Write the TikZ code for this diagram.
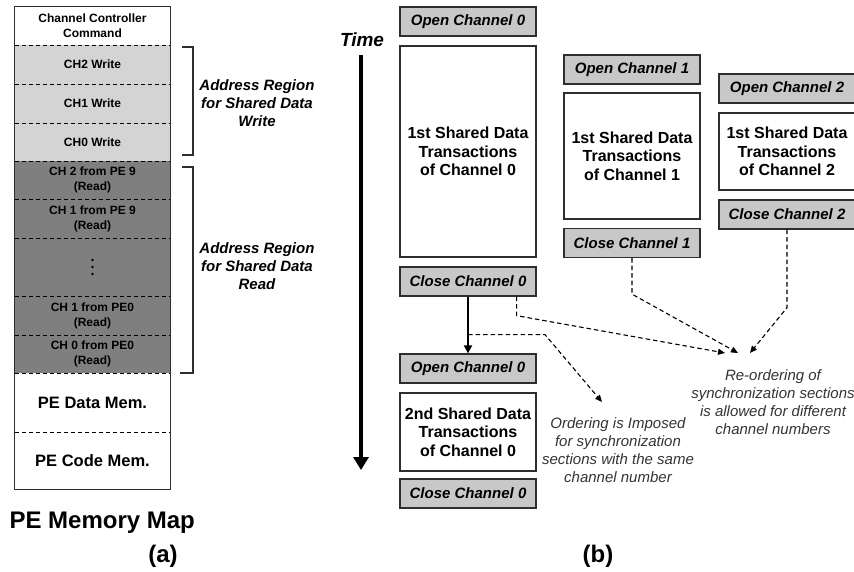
\documentclass[tikz,border=0pt]{standalone}
\usepackage{fontspec}
\setmainfont{Liberation Sans}
\usetikzlibrary{arrows.meta,calc}
\definecolor{boxline}{HTML}{2E2E2E}
\definecolor{ctrlfill}{HTML}{C8C8C8}
\definecolor{wrfill}{HTML}{D4D4D4}
\definecolor{rdfill}{HTML}{7F7F7F}
\definecolor{notegray}{HTML}{333333}
\tikzset{
  ctrl/.style={draw=boxline, fill=ctrlfill, line width=1.3pt, minimum width=136pt,
    minimum height=29pt, inner sep=0pt,
    font=\bfseries\itshape\fontsize{15}{18}\selectfont},
  txbox/.style={draw=boxline, fill=white, line width=1.3pt, minimum width=136pt,
    inner sep=0pt, align=center, font=\bfseries\fontsize{16}{18.5}\selectfont},
  memrow/.style={minimum width=155pt, inner sep=0pt, align=center},
  smalltxt/.style={font=\bfseries\fontsize{12}{15}\selectfont},
  bigtxt/.style={font=\bfseries\fontsize{16.5}{19}\selectfont},
  sep/.style={line width=0.9pt, dash pattern=on 4pt off 3pt},
  bracket/.style={line width=1.5pt, boxline},
  region/.style={align=center, font=\bfseries\itshape\fontsize{15}{18}\selectfont},
  note/.style={align=center, text=notegray, font=\itshape\fontsize{15}{18}\selectfont},
  dasharr/.style={line width=1.1pt, dash pattern=on 4.5pt off 3pt,
    -{Triangle[length=7pt,width=6pt]}},
}
\begin{document}
\begin{tikzpicture}[x=1pt,y=-1pt]
\useasboundingbox (0,0) rectangle (854,572);

% ---------- (a) memory map ----------
\node[memrow, minimum height=38pt, smalltxt, fill=white] (cmd) at (92.5,26) {Channel Controller\\Command};
\node[memrow, minimum height=39pt, smalltxt, fill=wrfill] (w2) at (92.5,64.5) {CH2 Write};
\node[memrow, minimum height=39pt, smalltxt, fill=wrfill] (w1) at (92.5,103.5) {CH1 Write};
\node[memrow, minimum height=38pt, smalltxt, fill=wrfill] (w0) at (92.5,142) {CH0 Write};
\node[memrow, minimum height=38pt, smalltxt, fill=rdfill] (r2) at (92.5,180) {CH 2 from PE 9\\(Read)};
\node[memrow, minimum height=39pt, smalltxt, fill=rdfill] (r1) at (92.5,218.5) {CH 1 from PE 9\\(Read)};
\node[memrow, minimum height=58pt, fill=rdfill] (rd) at (92.5,267) {};
\node[memrow, minimum height=39pt, smalltxt, fill=rdfill] (q1) at (92.5,315.5) {CH 1 from PE0\\(Read)};
\node[memrow, minimum height=38pt, smalltxt, fill=rdfill] (q0) at (92.5,354) {CH 0 from PE0\\(Read)};
\node[memrow, minimum height=59pt, bigtxt, fill=white] (dmem) at (92.5,402.5) {PE Data Mem.};
\node[memrow, minimum height=57pt, bigtxt, fill=white] (cmem) at (92.5,460.5) {PE Code Mem.};

% vertical ellipsis in the elided read rows
\foreach \dy in {-7,0,7}
  \fill ([yshift=\dy pt]rd.center) circle (1.4pt);

% dashed separators between rows
\foreach \r in {cmd,w2,w1,w0,r2,r1,rd,q1,q0,dmem}
  \draw[sep] (\r.south west) -- (\r.south east);

% outer frame
\draw[line width=1.3pt, boxline] (cmd.north west) rectangle (cmem.south east);

% brackets for the shared-data regions
\coordinate (wa) at ([xshift=12pt,yshift=-2pt]w2.north east);
\coordinate (wb) at ([xshift=12pt,yshift=6pt]w0.south east);
\draw[bracket] (wa) -- ++(11,0) |- (wb);
\coordinate (ra) at ([xshift=12pt,yshift=-6pt]r2.north east);
\coordinate (rb) at ([xshift=10pt]q0.south east);
\draw[bracket] (ra) -- ++(11,0) |- (rb);

\node[region] (wlab) at (257,103) {Address Region\\for Shared Data\\Write};
\node[region] (rlab) at (257,266) {Address Region\\for Shared Data\\Read};

\node[anchor=west, font=\bfseries\fontsize{24}{28}\selectfont] (mmap) at (6,523) {PE Memory Map};
\node[font=\bfseries\fontsize{24}{28}\selectfont] (capa) at (163,556) {(a)};

% ---------- (b) channel ordering ----------
\node[font=\bfseries\itshape\fontsize{19}{22}\selectfont] (time) at (362,40) {Time};
\coordinate (ttop) at (361,55);
\coordinate (tbot) at (361,470);
\draw[line width=4.5pt, -{Triangle[length=13pt,width=15pt]}] (ttop) -- (tbot);

% channel 0
\node[ctrl] (oc0) at (468,21.5) {Open Channel 0};
\node[txbox, minimum height=211pt] (sd0) at (468,151.5) {1st Shared Data\\Transactions\\of Channel 0};
\node[ctrl] (cc0) at (468,281.5) {Close Channel 0};
\node[ctrl] (oc0b) at (468,368.5) {Open Channel 0};
\node[txbox, minimum height=78pt] (sd0b) at (468,432) {2nd Shared Data\\Transactions\\of Channel 0};
\node[ctrl] (cc0b) at (468,493.5) {Close Channel 0};

% channel 1
\node[ctrl] (oc1) at (632,69.5) {Open Channel 1};
\node[txbox, minimum height=126pt] (sd1) at (632,156) {1st Shared Data\\Transactions\\of Channel 1};
\node[ctrl] (cc1) at (632,243) {Close Channel 1};

% channel 2
\node[ctrl] (oc2) at (787,88.5) {Open Channel 2};
\node[txbox, minimum height=77pt] (sd2) at (787,151.5) {1st Shared Data\\Transactions\\of Channel 2};
\node[ctrl] (cc2) at (787,214.5) {Close Channel 2};

% same-channel ordering
\draw[line width=1.8pt, -{Triangle[length=8pt,width=8pt]}] (cc0.south) -- (oc0b.north);

% notes
\node[note] (reord) at (773,402) {Re-ordering of\\synchronization sections\\is allowed for different\\channel numbers};
\node[note] (order) at (618,450) {Ordering is Imposed\\for synchronization\\sections with the same\\channel number};

% dashed pointers to the notes
\coordinate (tipA) at (725,353);
\coordinate (tipB) at (738,353);
\coordinate (tipC) at (750,353);
\coordinate (tipD) at (602,402);
\coordinate (brk) at ($(cc0.south)!0.67!(oc0b.north)$);

\draw[dasharr] ([xshift=-20pt]cc0.south east) -- ++(0,19) -- (tipA);
\draw[dasharr] (cc1.south) -- ++(0,36) -- (tipB);
\draw[dasharr] (cc2.south) -- ++(0,78) -- (tipC);
\draw[dasharr] (brk) -- ++(77,0) -- (tipD);

\node[font=\bfseries\fontsize{24}{28}\selectfont] (capb) at (598,556) {(b)};
\end{tikzpicture}
\end{document}
